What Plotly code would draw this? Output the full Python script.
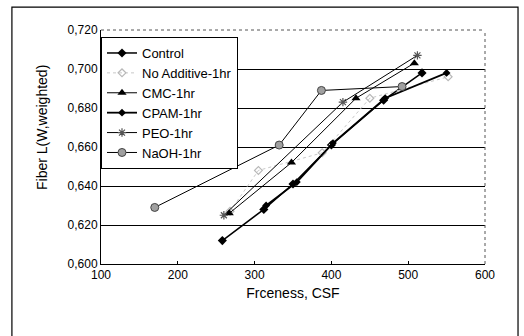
import plotly.graph_objects as go

# Data
control_x = [258, 312, 350, 400, 468, 518]
control_y = [0.612, 0.628, 0.641, 0.661, 0.684, 0.698]
noadd_x = [268, 305, 388, 450, 552]
noadd_y = [0.627, 0.648, 0.657, 0.685, 0.696]
cmc_x = [267, 348, 432, 508]
cmc_y = [0.626, 0.652, 0.685, 0.703]
cpam_x = [315, 355, 402, 470, 550]
cpam_y = [0.630, 0.642, 0.662, 0.685, 0.698]
peo_x = [260, 415, 512]
peo_y = [0.625, 0.683, 0.707]
naoh_x = [170, 332, 387, 492]
naoh_y = [0.629, 0.661, 0.689, 0.691]

x_ticks = [100, 200, 300, 400, 500, 600]
y_ticks = [0.600, 0.620, 0.640, 0.660, 0.680, 0.700, 0.720]

FONT = "Liberation Sans, Arial, sans-serif"

fig = go.Figure()
fig.add_trace(go.Scatter(x=control_x, y=control_y, name="Control", mode="lines+markers",
                         line=dict(color="black", width=1.5),
                         marker=dict(symbol="diamond", size=7, color="black")))
fig.add_trace(go.Scatter(x=noadd_x, y=noadd_y, name="No Additive-1hr", mode="lines+markers",
                         line=dict(color="#c8c8c8", width=1, dash="dot"),
                         marker=dict(symbol="diamond-open", size=6, color="#b8b8b8", line=dict(width=1.2))))
fig.add_trace(go.Scatter(x=cmc_x, y=cmc_y, name="CMC-1hr", mode="lines+markers",
                         line=dict(color="black", width=1),
                         marker=dict(symbol="triangle-up", size=8, color="black")))
fig.add_trace(go.Scatter(x=cpam_x, y=cpam_y, name="CPAM-1hr", mode="lines+markers",
                         line=dict(color="black", width=1.8),
                         marker=dict(symbol="diamond", size=6, color="black")))
fig.add_trace(go.Scatter(x=peo_x, y=peo_y, name="PEO-1hr", mode="lines+markers",
                         line=dict(color="black", width=1),
                         marker=dict(symbol="asterisk-open", size=7, color="#555555", line=dict(width=1.2, color="#555555"))))
fig.add_trace(go.Scatter(x=naoh_x, y=naoh_y, name="NaOH-1hr", mode="lines+markers",
                         line=dict(color="black", width=1),
                         marker=dict(symbol="circle", size=8, color="#a0a0a0", line=dict(width=1, color="#444444"))))

# outer frame
fig.add_shape(type="rect", xref="paper", yref="paper", x0=-0.232, x1=1.086, y0=-0.33, y1=1.098,
              line=dict(color="black", width=1.2), fillcolor="rgba(0,0,0,0)", layer="below")

fig.add_annotation(text="Fiber L(W,weighted)", xref="paper", yref="paper", x=-0.154, y=0.585,
                   textangle=-90, showarrow=False, font=dict(family=FONT, size=14, color="black"),
                   xanchor="center", yanchor="middle")

fig.update_layout(
    width=524, height=336,
    margin=dict(l=101, r=39, t=30, b=72),
    paper_bgcolor="white", plot_bgcolor="white",
    separators=",.",
    font=dict(family=FONT, size=12, color="black"),
    showlegend=True,
    legend=dict(x=0, y=0.97, xanchor="left", yanchor="top",
                bgcolor="white", bordercolor="black", borderwidth=1,
                font=dict(family=FONT, size=13, color="black"),
                tracegroupgap=0, itemwidth=30),
    xaxis=dict(range=[100, 600], tickvals=x_ticks, ticks="inside", ticklen=3, tickcolor="black",
               showgrid=False, zeroline=False, showline=True, linecolor="black", linewidth=1,
               mirror=False, tickfont=dict(size=12),
               title=dict(text="Frceness, CSF", font=dict(size=14), standoff=6)),
    yaxis=dict(range=[0.6, 0.72], tickvals=y_ticks, tickformat=".3f", ticks="",
               showgrid=True, gridcolor="black", gridwidth=1, zeroline=False,
               showline=True, linecolor="black", linewidth=1, tickfont=dict(size=12)),
)

# top/right dotted borders of plot area
fig.add_shape(type="line", xref="paper", yref="paper", x0=0, x1=1, y0=1, y1=1,
              line=dict(color="#555555", width=1, dash="dot"))
fig.add_shape(type="line", xref="paper", yref="paper", x0=1, x1=1, y0=0, y1=1,
              line=dict(color="#555555", width=1, dash="dot"))

fig.write_html("out.html")
